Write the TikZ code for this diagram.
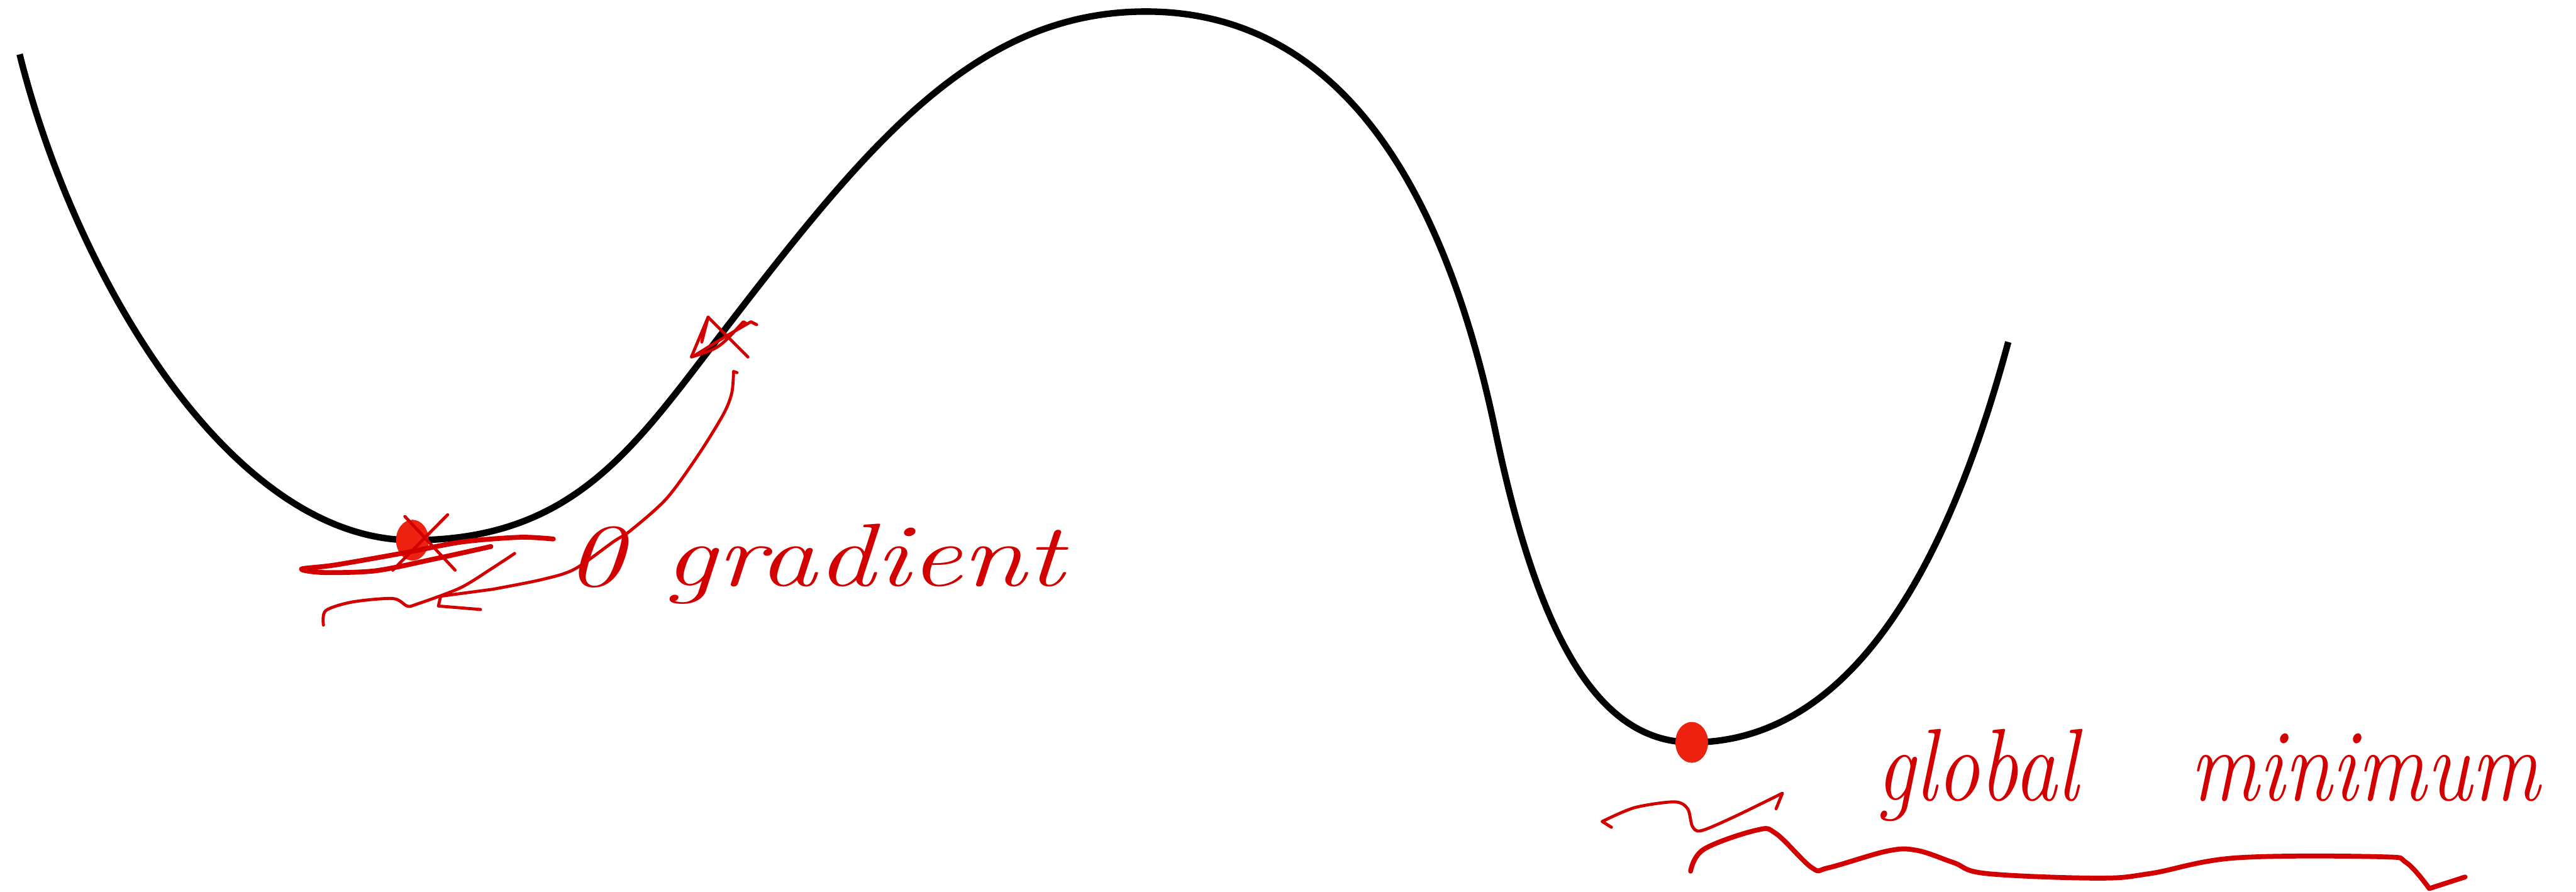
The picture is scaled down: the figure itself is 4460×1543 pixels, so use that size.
\documentclass[tikz,border=0pt]{standalone}
\usepackage{tikz}
\usetikzlibrary{arrows.meta,positioning,shapes.geometric,calc}
\usepackage{xcolor}
\definecolor{pen}{HTML}{D20000}
\definecolor{blob}{HTML}{EE2210}

\tikzset{
  curve/.style={line width=3.2pt,black,line join=round},
  scrawl/.style={line width=1.5pt,pen,line cap=round,line join=round},
  thickscrawl/.style={line width=2.4pt,pen,line cap=round,line join=round},
  blotch/.style={ellipse,fill=blob,inner sep=0pt,minimum width=16pt,minimum height=20pt},
  script/.style={pen,font=\fontsize{44}{48}\selectfont\itshape,inner sep=0pt}
}

\begin{document}
\begin{tikzpicture}[x=0.01cm,y=-0.01cm]
  \useasboundingbox (0,0) rectangle (4460,1543);
  % landscape
  \coordinate (left) at (34,94);
  \coordinate (slope) at (1246,582);
  \coordinate (peak) at (1984,20);
  \coordinate (cliff) at (2589,746);
  \coordinate (right) at (3477,592);
  \node[blotch] (localmin) at (714,935) {};
  \node[blotch] (globalmin) at (2929,1285) {};
  \draw[curve] (left) .. controls (130,480) and (400,935) .. (localmin.center)
    .. controls (991,935) and (1096,777) .. (slope)
    .. controls (1496,257) and (1684,20) .. (peak)
    .. controls (2314,20) and (2499,314) .. (cliff)
    .. controls (2659,1082) and (2759,1285) .. (globalmin.center)
    .. controls (3229,1285) and (3387,925) .. (right);
  % redraw the dots on top
  \node[blotch] at (localmin) {};
  \node[blotch] at (globalmin) {};
  % labels
  \node[script,anchor=base west,xscale=1.3] (zerograd) at (978,1014) {0 gradient};
  \node[script,anchor=base west,xscale=0.92,yscale=1.1,font=\fontsize{46}{50}\selectfont\itshape]
    (globlabel) at (3248,1386) {global\hspace{2.1cm}minimum};
  % start point on the slope
  \draw[scrawl] ($(slope)+(-20,-33)$) -- ($(slope)+(49,36)$);
  \draw[scrawl] ($(slope)+(-46,35)$) .. controls ($(slope)+(9,1)$) .. ($(slope)+(54,-25)$)
    -- ($(slope)+(64,-20)$);
  \draw[scrawl] ($(slope)+(-31,10)$) -- ($(slope)+(-20,-33)$) -- ($(slope)+(-49,36)$)
    .. controls ($(slope)+(-1,21)$) .. ($(slope)+(41,-25)$) -- ($(slope)+(46,-22)$);
  % slide down
  \coordinate (tipA) at (763,1032);
  \draw[scrawl] ($(slope)+(30,63)$) -- ($(slope)+(24,61)$)
    plot[smooth] coordinates {(1270,645) (1267,680) (1253,716) (1210,786)
    (1154,863) (1091,919) (1063,937) (995,985) (939,1003) (853,1020)} -- (tipA);
  \draw[scrawl] (tipA) -- (759,1049) -- (832,1055);
  \draw[scrawl] plot[smooth] coordinates {(560,1082) (564,1057) (610,1042)
    (680,1036) (705,1049) (721,1046) (796,1018) (850,985) (891,958)};
  % flat-gradient scribbles on the dot
  \draw[thickscrawl] plot[smooth] coordinates {(958,933) (900,930) (800,938)
    (700,957) (580,978) (522,985) (560,991) (650,988) (750,968) (850,946)};
  \draw[scrawl] (701,894) -- (788,987);
  \draw[scrawl] (775,891) -- (680,987);
  % pointer to the global minimum
  \draw[scrawl] (2790,1432) -- (2774,1422)
    plot[smooth] coordinates {(2774,1422) (2830,1398) (2899,1388) (2922,1400)
    (2930,1430) (2945,1438) (3000,1415) (3086,1373)} -- (3075,1400);
  \draw[thickscrawl] plot[smooth,tension=0.6] coordinates {(2927,1508) (2950,1470)
    (3041,1437) (3075,1443) (3137,1502) (3166,1502) (3268,1473) (3319,1472)
    (3382,1493) (3439,1512) (3632,1520) (3723,1512) (3870,1485) (4120,1483)
    (4166,1493) (4206,1538)} -- (4268,1518);
\end{tikzpicture}
\end{document}
